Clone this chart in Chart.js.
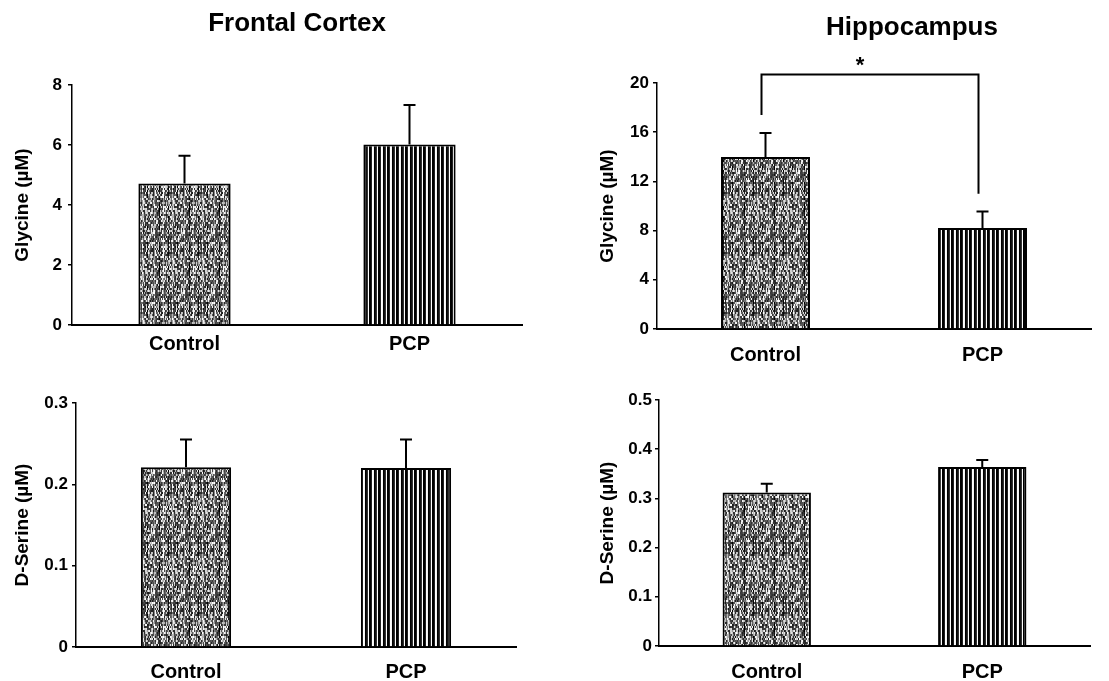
<!DOCTYPE html>
<html>
<head>
<meta charset="utf-8">
<script src="https://cdn.jsdelivr.net/npm/chart.js@4.4.1/dist/chart.umd.min.js"></script>
<style>
  html, body { margin: 0; padding: 0; background: #fff; }
  body { width: 1109px; height: 681px; position: relative; overflow: hidden; }
  canvas { position: absolute; }
</style>
</head>
<body>
<canvas id="fcGly" width="545" height="375" style="left:0;top:0"></canvas>
<canvas id="hcGly" width="554" height="375" style="left:555px;top:0"></canvas>
<canvas id="fcSer" width="545" height="340" style="left:0;top:360px"></canvas>
<canvas id="hcSer" width="554" height="340" style="left:555px;top:360px"></canvas>
<script>
// values (mean, SEM)
const categories = ['Control', 'PCP'];

const fcGlycine = [4.72, 6.02];
const fcGlycineErr = [0.92, 1.31];
const hcGlycine = [13.98, 8.21];
const hcGlycineErr = [1.95, 1.35];

const fcSerine = [0.221, 0.220];
const fcSerineErr = [0.034, 0.035];
const hcSerine = [0.312, 0.364];
const hcSerineErr = [0.018, 0.014];

const glyTitle = 'Glycine (\u00b5M)';
const serTitle = 'D-Serine (\u00b5M)';

// significance bracket (hippocampus glycine), in data units
const bracketLevel = 20.7;
const bracketLeftFoot = 17.4;
const bracketRightFoot = 11.0;

Chart.defaults.font.family = "'Liberation Sans', Arial, sans-serif";
Chart.defaults.font.weight = 'bold';
Chart.defaults.color = '#000';

// fill patterns
function hash(x, y) {
  let h = (x * 374761393 + y * 668265263) | 0;
  h = Math.imul(h ^ (h >>> 13), 1274126177);
  h ^= h >>> 16;
  return (h >>> 0) / 4294967296;
}

function speckle() {
  const w = 30, hgt = 60;
  const c = document.createElement('canvas');
  c.width = w; c.height = hgt;
  const g = c.getContext('2d');
  const img = g.createImageData(w, hgt);
  const light = [4, 13, 22];
  const dark = [9, 18, 27];
  for (let y = 0; y < hgt; y++) {
    for (let x = 0; x < w; x++) {
      const v = hash(x, Math.floor(y / 2));
      let gray = v < 0.6 ? 25 + v * 150 : 175 + (v - 0.6) * 200;
      if (light.includes(x)) gray += 80;
      if (dark.includes(x)) gray -= 50;
      gray = Math.max(0, Math.min(255, gray));
      const k = (y * w + x) * 4;
      img.data[k] = img.data[k + 1] = img.data[k + 2] = gray;
      img.data[k + 3] = 255;
    }
  }
  g.putImageData(img, 0, 0);
  return g.createPattern(c, 'repeat');
}

function stripes() {
  const c = document.createElement('canvas');
  c.width = 9; c.height = 1;
  const g = c.getContext('2d');
  const cols = ['#000', '#000', '#222', '#fff', '#f4f4f4', '#000', '#111', '#333', '#fff'];
  cols.forEach((col, i) => { g.fillStyle = col; g.fillRect(i, 0, 1, 1); });
  return g.createPattern(c, 'repeat');
}

const ctrlFill = speckle();
const pcpFill = stripes();

const errorBars = {
  id: 'errorBars',
  afterDatasetsDraw(chart) {
    const ds = chart.data.datasets[0];
    const meta = chart.getDatasetMeta(0);
    const y = chart.scales.y;
    const ctx = chart.ctx;
    ctx.save();
    ctx.strokeStyle = '#000';
    ctx.lineWidth = 2;
    meta.data.forEach((bar, i) => {
      const top = y.getPixelForValue(ds.data[i] + ds.errors[i]);
      ctx.beginPath();
      ctx.moveTo(bar.x, bar.y);
      ctx.lineTo(bar.x, top);
      ctx.moveTo(bar.x - 6, top);
      ctx.lineTo(bar.x + 6, top);
      ctx.stroke();
    });
    ctx.restore();
  }
};

const panelTitle = {
  id: 'panelTitle',
  afterDraw(chart, args, opts) {
    if (!opts || !opts.text) return;
    const ctx = chart.ctx;
    ctx.save();
    ctx.font = "bold 26px 'Liberation Sans', Arial, sans-serif";
    ctx.fillStyle = '#000';
    ctx.textAlign = 'center';
    ctx.textBaseline = 'middle';
    ctx.fillText(opts.text, opts.x, opts.y);
    ctx.restore();
  }
};

Chart.register(errorBars, panelTitle);

function makePanel(id, values, errors, yMax, yStep, decimals, yTitle, box, extra) {
  const canvas = document.getElementById(id);
  const W = canvas.width, H = canvas.height;
  const xH = 45;
  return new Chart(canvas, {
    type: 'bar',
    data: {
      labels: categories,
      datasets: [{
        data: values,
        errors: errors,
        backgroundColor: [ctrlFill, pcpFill],
        borderColor: '#000',
        borderWidth: 2,
        barPercentage: 0.41,
        categoryPercentage: 1.0
      }]
    },
    plugins: extra ? [extra] : [],
    options: {
      responsive: false,
      animation: false,
      layout: {
        padding: { left: box.padLeft, top: box.top, right: W - box.right, bottom: H - box.bottom - xH }
      },
      plugins: {
        legend: { display: false },
        tooltip: { enabled: false },
        panelTitle: box.title || {}
      },
      scales: {
        x: {
          grid: { display: false, drawTicks: false },
          border: { color: '#000', width: 2 },
          ticks: { padding: box.labelPad, font: { size: 20, weight: 'bold' } },
          afterFit(s) { s.height = xH; s.paddingLeft = 0; s.paddingRight = 0; }
        },
        y: {
          min: 0,
          max: yMax,
          ticks: {
            stepSize: yStep,
            padding: box.tickPad,
            font: { size: 17, weight: 'bold' },
            callback: v => (v === 0 ? '0' : v.toFixed(decimals))
          },
          grid: { drawOnChartArea: false, drawTicks: true, tickLength: 4, color: '#000', lineWidth: 1.5 },
          border: { color: '#000', width: 1.5 },
          title: { display: true, text: yTitle, padding: 11, font: { size: 19, weight: 'bold' } },
          afterFit(s) { s.width = box.left - box.padLeft; s.paddingTop = 0; s.paddingBottom = 0; }
        }
      }
    }
  });
}

const bracket = {
  id: 'bracket',
  afterDraw(chart) {
    const x = chart.scales.x, y = chart.scales.y, ctx = chart.ctx;
    const x0 = x.getPixelForValue(0) - 4;
    const x1 = x.getPixelForValue(1) - 4;
    const yTop = y.getPixelForValue(bracketLevel);
    ctx.save();
    ctx.strokeStyle = '#000';
    ctx.lineWidth = 2;
    ctx.beginPath();
    ctx.moveTo(x0, y.getPixelForValue(bracketLeftFoot));
    ctx.lineTo(x0, yTop);
    ctx.lineTo(x1, yTop);
    ctx.lineTo(x1, y.getPixelForValue(bracketRightFoot));
    ctx.stroke();
    ctx.font = "bold 22px 'Liberation Sans', Arial, sans-serif";
    ctx.fillStyle = '#000';
    ctx.textAlign = 'center';
    ctx.textBaseline = 'middle';
    ctx.fillText('*', (x0 + x1) / 2 - 10, yTop - 8);
    ctx.restore();
  }
};

makePanel('fcGly', fcGlycine, fcGlycineErr, 8, 2, 0, glyTitle,
  { padLeft: 0, left: 72, top: 85, right: 522, bottom: 325, tickPad: 6, labelPad: 7,
    title: { text: 'Frontal Cortex', x: 297, y: 24 } });

makePanel('hcGly', hcGlycine, hcGlycineErr, 20, 4, 0, glyTitle,
  { padLeft: 30, left: 102, top: 83, right: 536, bottom: 329, tickPad: 4, labelPad: 14,
    title: { text: 'Hippocampus', x: 357, y: 28 } }, bracket);

makePanel('fcSer', fcSerine, fcSerineErr, 0.3, 0.1, 1, serTitle,
  { padLeft: 0, left: 76, top: 43, right: 516, bottom: 287, tickPad: 4, labelPad: 13 });

makePanel('hcSer', hcSerine, hcSerineErr, 0.5, 0.1, 1, serTitle,
  { padLeft: 30, left: 104, top: 40, right: 535, bottom: 286, tickPad: 3, labelPad: 14 });
</script>
</body>
</html>
